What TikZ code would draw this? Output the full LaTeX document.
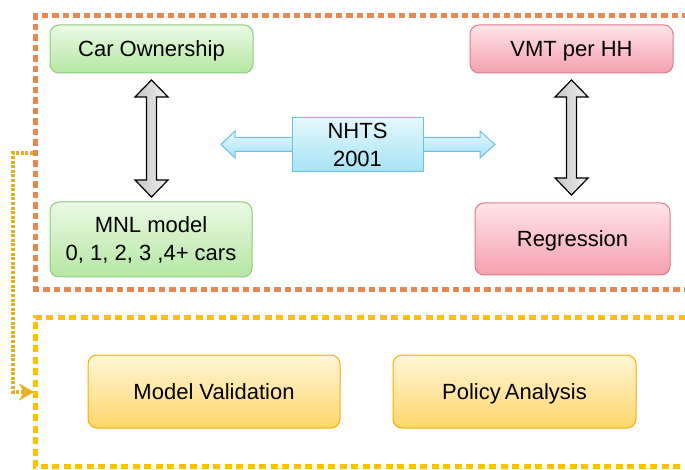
\documentclass[tikz,border=0pt]{standalone}
\usepackage{fontspec}
\setmainfont{Liberation Sans}
\usetikzlibrary{arrows.meta,shadings}
\definecolor{orfr}{HTML}{E8874F}
\definecolor{yefr}{HTML}{FFC000}
\definecolor{yecon}{HTML}{E2B020}
\definecolor{gtop}{HTML}{EAFAE4}
\definecolor{gbot}{HTML}{B4E6A2}
\definecolor{gbrd}{HTML}{8CCB78}
\definecolor{rtop}{HTML}{FFE4E8}
\definecolor{rbot}{HTML}{F4A0AE}
\definecolor{rbrd}{HTML}{E07A8A}
\definecolor{ytop}{HTML}{FFF6D8}
\definecolor{ybot}{HTML}{FFD66A}
\definecolor{ybrd}{HTML}{F0B000}
\definecolor{btop}{HTML}{E4F8FF}
\definecolor{bbot}{HTML}{A6E2F4}
\definecolor{bbrd}{HTML}{6CC0DC}
\tikzset{
  box/.style={rounded corners=9pt, line width=1pt, align=center,
    font=\fontsize{22}{28}\selectfont, inner sep=0pt},
  oneline/.style={text height=15.8pt, text depth=0pt},
  greenbox/.style={box, draw=gbrd, top color=gtop, bottom color=gbot},
  redbox/.style={box, draw=rbrd, top color=rtop, bottom color=rbot},
  yellowbox/.style={box, draw=ybrd, top color=ytop, bottom color=ybot},
  bluebox/.style={box, rounded corners=0pt, draw=bbrd, top color=btop, bottom color=bbot},
  grayarrow/.style={draw=black, line width=1.2pt, line join=miter, left color=gray!45, right color=gray!12},
  bluearrow/.style={draw=bbrd, line width=1pt, top color=btop, bottom color=bbot},
  orframe/.style={draw=orfr, line width=5pt, dash pattern=on 6.5pt off 4pt},
  yeframe/.style={draw=yefr, line width=5pt, dash pattern=on 7pt off 4.5pt},
  yeconn/.style={draw=yecon, line width=4pt, dash pattern=on 3pt off 1.6pt,
    -{Stealth[length=15pt,width=17pt,inset=5pt]}},
}
\newcommand\grayVArrow[3]{%
  \draw[grayarrow] (#1,#2) -- (#1+16.5,#2+17) -- (#1+5,#2+17) -- (#1+5,#3-17)
    -- (#1+16.5,#3-17) -- (#1,#3) -- (#1-16.5,#3-17) -- (#1-5,#3-17)
    -- (#1-5,#2+17) -- (#1-16.5,#2+17) -- cycle;}
\begin{document}
\begin{tikzpicture}[x=1pt,y=-1pt]
\useasboundingbox (0,0) rectangle (685,470);
% frames
\draw[orframe] (720,16) -- (35,16) -- (35,289) -- (720,289);
\draw[yeframe] (720,317) -- (35,317) -- (35,466) -- (720,466);
\coordinate (orW) at (33,153);
\coordinate (yeW) at (34,392);
\draw[yeconn] (orW) -- (13,153) -- (13,392) -- (yeW);
% blue double arrow behind NHTS
\draw[bluearrow] (221,144.5) -- (235,131) -- (235,137.5) -- (480,137.5) -- (480,131)
   -- (495,144.5) -- (480,158) -- (480,151.5) -- (235,151.5) -- (235,158) -- cycle;
% nodes
\node[greenbox, oneline, minimum width=203pt, minimum height=48pt] (co) at (151.5,49) {Car Ownership};
\node[greenbox, minimum width=202pt, minimum height=75pt] (mnl) at (151,239.5) {MNL model\\0, 1, 2, 3 ,4+ cars};
\node[redbox, oneline, minimum width=203pt, minimum height=48pt] (vmt) at (571.5,49) {VMT per HH};
\node[redbox, oneline, minimum width=195pt, minimum height=72pt] (reg) at (572.5,239) {Regression};
\node[bluebox, minimum width=131pt, minimum height=54pt] (nhts) at (357.5,145) {NHTS\\2001};
\node[yellowbox, oneline, minimum width=252pt, minimum height=73pt] (mv) at (214,391.5) {Model Validation};
\node[yellowbox, oneline, minimum width=243pt, minimum height=73pt] (pa) at (514.5,391.5) {Policy\kern-2pt\ Analysis};
% gray double arrows
\grayVArrow{151.5}{80}{197}
\grayVArrow{571.5}{80}{195}
\end{tikzpicture}
\end{document}
